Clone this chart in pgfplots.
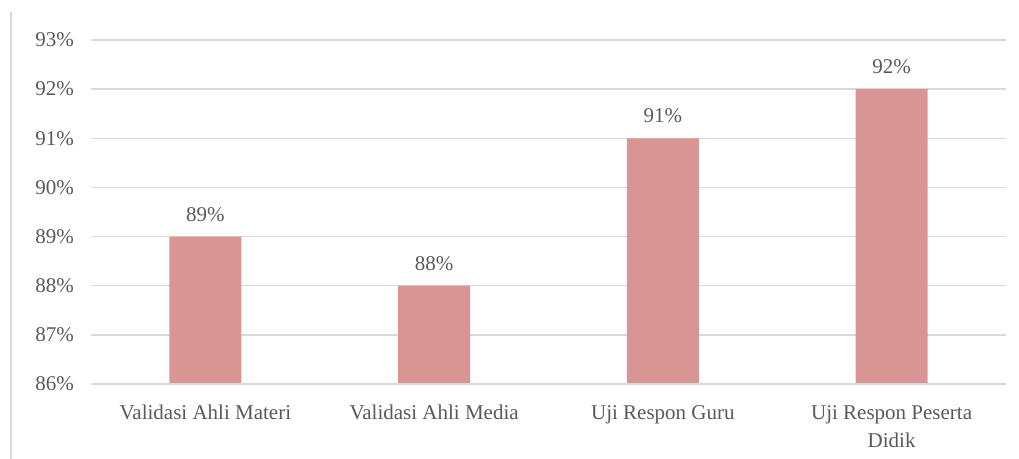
\documentclass[border=0pt]{standalone}
\usepackage{pgfplots}
\pgfplotsset{compat=1.18}
\usepackage{fontspec}
\setmainfont{Liberation Serif}
\definecolor{barc}{RGB}{217,149,148}
\definecolor{gridc}{RGB}{217,217,217}
\definecolor{txt}{RGB}{89,89,89}
\begin{document}
\fontsize{21bp}{27bp}\selectfont
\begin{tikzpicture}
\path[use as bounding box] (-91bp,-75bp) rectangle (928bp,384bp);
\draw[gridc, line width=1.5bp] (-80bp,-75bp) -- (-80bp,372bp);
\begin{axis}[
  scale only axis,
  width=915bp, height=344bp,
  at={(0,0)}, anchor=south west,
  xmin=-0.5, xmax=3.5,
  ymin=86, ymax=93,
  ytick={86,87,88,89,90,91,92,93},
  yticklabels={86\%,87\%,88\%,89\%,90\%,91\%,92\%,93\%},
  xtick={0,1,2,3},
  xticklabels={Validasi Ahli Materi, Validasi Ahli Media, Uji Respon Guru, {Uji Respon Peserta\\Didik}},
  x tick label style={align=center, font=\fontsize{21bp}{28bp}\selectfont, text=txt, yshift=-14bp},
  y tick label style={font=\fontsize{21bp}{27bp}\selectfont, text=txt, xshift=-10bp},
  /pgf/number format/assume math mode=true,
  major tick length=0pt,
  axis line style={draw=none},
  ymajorgrids,
  grid style={gridc, line width=1.5bp},
  ybar, bar width=72bp,
  nodes near coords={\pgfmathprintnumber{\pgfplotspointmeta}\%},
  nodes near coords style={font=\fontsize{21bp}{27bp}\selectfont, text=txt, yshift=8bp},
  clip=false,
]
\addplot[fill=barc, draw=none] coordinates {(0,89) (1,88) (2,91) (3,92)};
\draw[gridc, line width=1.5bp] (axis cs:-0.5,86) -- (axis cs:3.5,86);
\end{axis}
\end{tikzpicture}
\end{document}
